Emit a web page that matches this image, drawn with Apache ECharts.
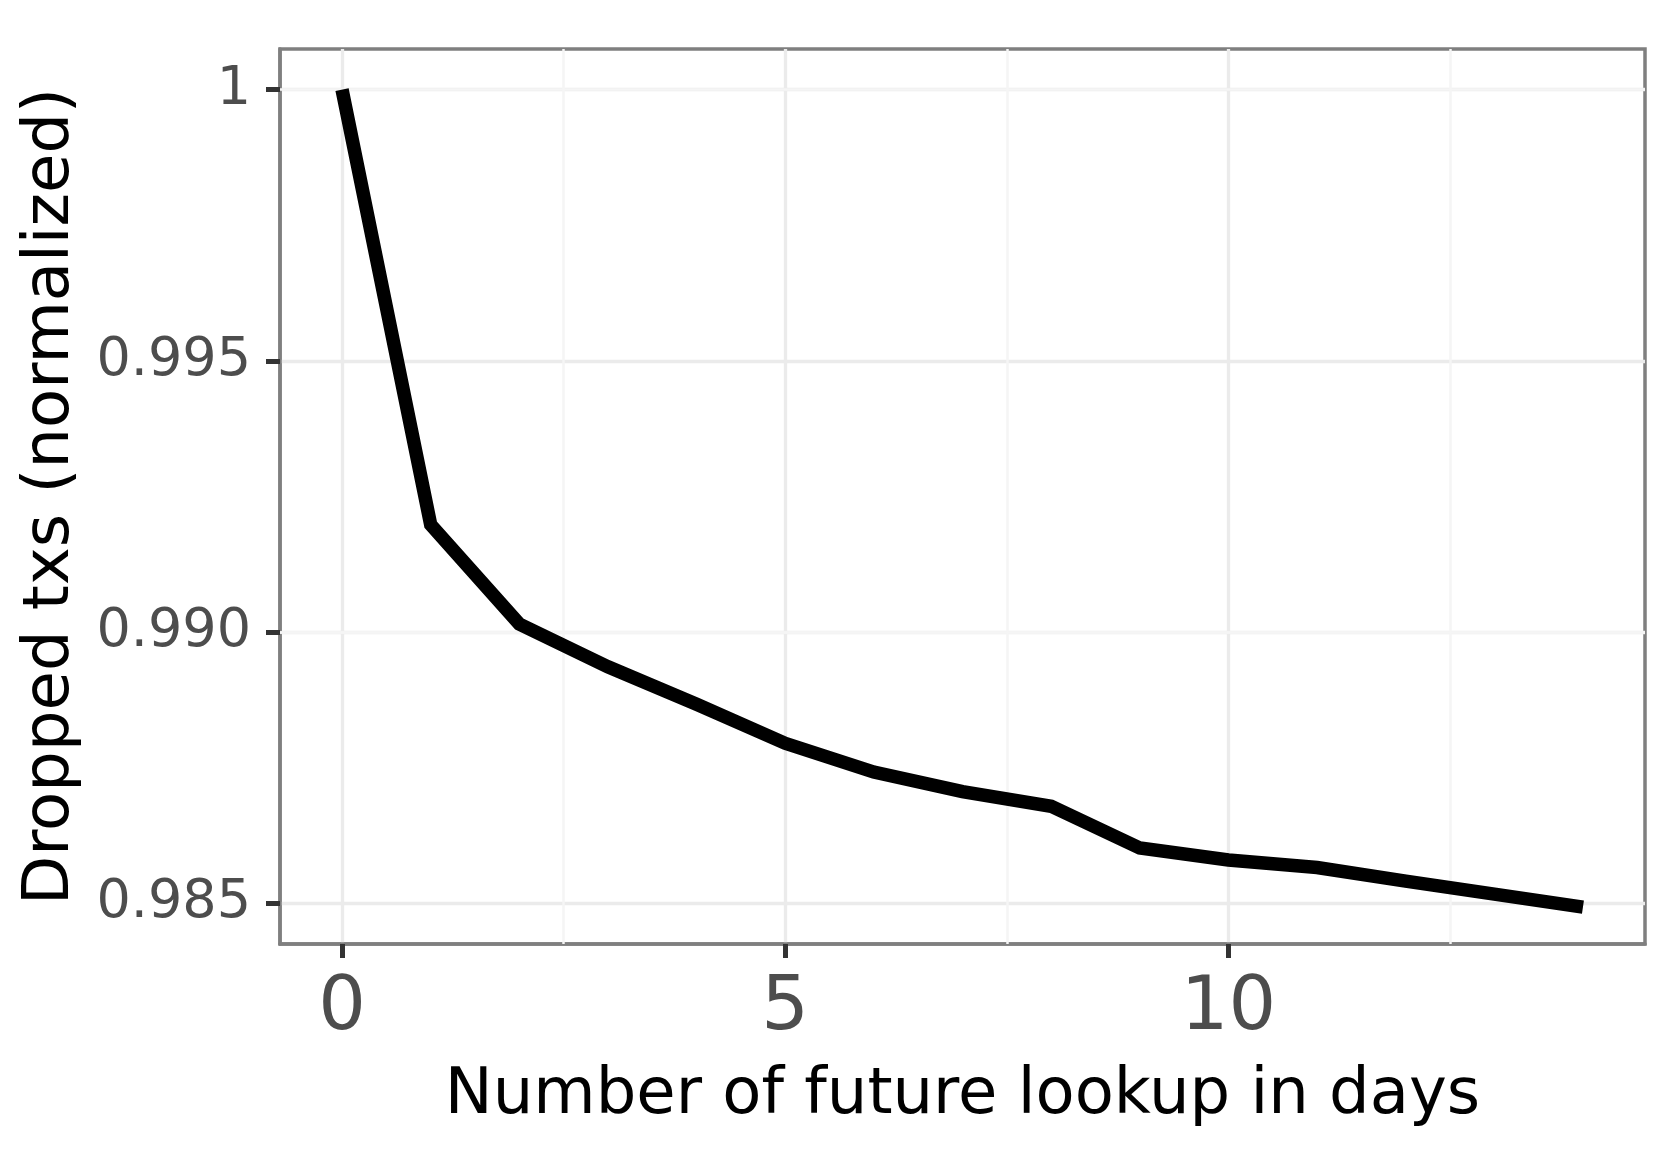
<!DOCTYPE html>
<html>
<head>
<meta charset="utf-8">
<script src="https://cdn.jsdelivr.net/npm/echarts@6/dist/echarts.min.js"></script>
<style>
html,body{margin:0;padding:0;background:#fff;}
#chart{width:1661px;height:1163px;}
</style>
</head>
<body>
<div id="chart"></div>
<script>
const lookupDays = [0, 1, 2, 3, 4, 5, 6, 7, 8, 9, 10, 11, 12, 13, 14];
const droppedTxs = [1.0, 0.99198, 0.99015, 0.98936, 0.98867, 0.98795, 0.98742, 0.98706, 0.98679, 0.98602, 0.98580, 0.98566, 0.98541, 0.98517, 0.98493];
const xTickValues = [0, 5, 10];
const xMinorValues = [2.5, 7.5, 12.5];
const yTickValues = [0.985, 0.99, 0.995, 1];
const yTickLabels = ['0.985', '0.990', '0.995', '1'];
const yMinorValues = [0.9875, 0.9925, 0.9975];

const FONT = 'DejaVu Sans';
const chart = echarts.init(document.getElementById('chart'), null, {renderer: 'canvas'});

chart.setOption({
  animation: false,
  backgroundColor: '#ffffff',
  grid: {
    left: 280, right: 16, top: 49, bottom: 219,
    show: true, borderColor: '#7f7f7f', borderWidth: 3.5
  },
  xAxis: {
    type: 'value', min: -0.7, max: 14.7,
    name: 'Number of future lookup in days', nameLocation: 'middle', nameGap: 120,
    nameTextStyle: {fontFamily: FONT, fontSize: 64, color: '#000000'},
    axisLine: {show: true, onZero: false, lineStyle: {color: '#7f7f7f', width: 3.5}},
    axisTick: {show: true, length: 14, lineStyle: {color: '#333333', width: 5}, customValues: xTickValues},
    axisLabel: {fontFamily: FONT, fontSize: 75, color: '#4d4d4d', margin: 28, customValues: xTickValues},
    splitLine: {show: true, lineStyle: {color: '#ebebeb', width: 3.3}}
  },
  yAxis: {
    type: 'value', min: 0.98425, max: 1.00075,
    name: 'Dropped txs (normalized)', nameLocation: 'middle', nameGap: 197,
    nameTextStyle: {fontFamily: FONT, fontSize: 64, color: '#000000'},
    axisLine: {show: true, onZero: false, lineStyle: {color: '#7f7f7f', width: 3.5}},
    axisTick: {show: true, length: 14, lineStyle: {color: '#333333', width: 5}, customValues: yTickValues},
    axisLabel: {
      fontFamily: FONT, fontSize: 54, color: '#4d4d4d', margin: 29, customValues: yTickValues,
      formatter: function (v) {
        const i = yTickValues.findIndex(t => Math.abs(t - v) < 1e-9);
        return i >= 0 ? yTickLabels[i] : '';
      }
    },
    splitLine: {show: true, lineStyle: {color: '#ebebeb', width: 3.3}}
  },
  series: [{
    type: 'line',
    data: [],
    z: 1,
    silent: true,
    markLine: {
      silent: true, symbol: 'none', z: 1, animation: false,
      label: {show: false},
      emphasis: {disabled: true},
      lineStyle: {color: '#f5f5f5', width: 2.5, type: 'solid'},
      data: xMinorValues.map(v => ({xAxis: v})).concat(yMinorValues.map(v => ({yAxis: v})))
    }
  }, {
    type: 'line',
    data: lookupDays.map((d, i) => [d, droppedTxs[i]]),
    showSymbol: false,
    symbol: 'none',
    lineStyle: {color: '#000000', width: 13.5, cap: 'butt', join: 'miter'},
    z: 5
  }]
});
</script>
</body>
</html>
